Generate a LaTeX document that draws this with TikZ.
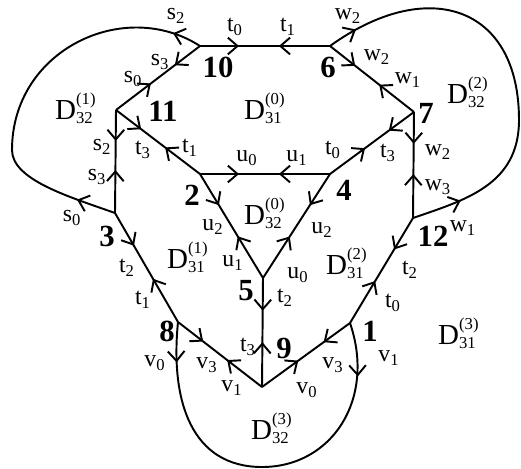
\documentclass[tikz,border=0pt]{standalone}
\usepackage{fontspec}
\setmainfont{Liberation Serif}
\usetikzlibrary{arrows.meta,decorations.markings}
\newcommand\hlab[2]{#1\textsubscript{#2}}
\newcommand\dreg[2]{D\rlap{\raisebox{0.55em}{\fontsize{9.5}{10}\selectfont(#2)}}%
  \raisebox{-0.12em}{\fontsize{9.5}{10}\selectfont#1}}
\begin{document}
\begin{tikzpicture}[x=0.02cm,y=-0.02cm,line width=1.1pt,
  >={Straight Barb[length=5.5pt,width=9.5pt]},
  half/.style={postaction={decorate},decoration={markings,
    mark=at position 0.3 with {\arrow{>}},
    mark=at position 0.7 with {\arrow{<}}}},
  loopy/.style 2 args={postaction={decorate},decoration={markings,
    mark=at position #1 with {\arrow{>}},
    mark=at position -#2 with {\arrow{<}}}},
  lab/.style={font=\fontsize{13.5}{15}\selectfont,inner sep=0pt},
  num/.style={font=\fontsize{17.5}{19}\selectfont\bfseries,inner sep=0pt},
  reg/.style={font=\fontsize{16.5}{18}\selectfont,inner sep=0pt}]
\useasboundingbox (0,0) rectangle (521,468);
% vertices
\coordinate (v10) at (200,46);
\coordinate (v6) at (330,46);
\coordinate (v11) at (116,110);
\coordinate (v7) at (414,112);
\coordinate (v2) at (200,174);
\coordinate (v4) at (330,174);
\coordinate (v3) at (115,213);
\coordinate (v12) at (413,218);
\coordinate (v5) at (263,278);
\coordinate (v8) at (178,322);
\coordinate (v1) at (350,323);
\coordinate (v9) at (262,387);
% turning points of the loops
\coordinate (lw) at (12,150);
\coordinate (rw) at (519,120);
\coordinate (bw) at (262,467);
% edges
\draw[half] (v10)--(v6);
\draw[half] (v10)--(v11);
\draw[half] (v6)--(v7);
\draw[half] (v11)--(v2);
\draw[half] (v11)--(v3);
\draw[half] (v7)--(v4);
\draw[half] (v7)--(v12);
\draw[half] (v2)--(v4);
\draw[half] (v2)--(v5);
\draw[half] (v4)--(v5);
\draw[half] (v3)--(v8);
\draw[half] (v12)--(v1);
\draw[half] (v5)--(v9);
\draw[half] (v8)--(v9);
\draw[half] (v1)--(v9);
% loops
\draw[loopy={17pt}{16pt}] (v10) .. controls (124,-3) and (12,50) .. (lw)
  .. controls (12,180) and (70,197) .. (v3);
\draw[loopy={17.5pt}{22pt}] (v6) .. controls (427,-24) and (519,5) .. (rw)
  .. controls (519,185) and (465,200) .. (v12);
\draw[loopy={23pt}{24pt}] (v8) .. controls (170,402) and (192,467) .. (bw)
  .. controls (332,467) and (376,399) .. (v1);
% vertex numbers
\node[num] (n10) at (218,67) {10};
\node[num] (n6) at (328,67) {6};
\node[num] (n11) at (163,111) {11};
\node[num] (n7) at (426,113) {7};
\node[num] (n2) at (192,195) {2};
\node[num] (n4) at (344,190) {4};
\node[num] (n3) at (107,236) {3};
\node[num] (n12) at (433,236) {12};
\node[num] (n5) at (246,291) {5};
\node[num] (n8) at (167,331) {8};
\node[num] (n1) at (370,331) {1};
\node[num] (n9) at (284,348) {9};
% half-edge labels
\node[lab] (h10s2) at (176,16) {\hlab{s}{2}};
\node[lab] (h10t0) at (235,27) {\hlab{t}{0}};
\node[lab] (h6t1) at (288,27) {\hlab{t}{1}};
\node[lab] (h6w2) at (348,16) {\hlab{w}{2}};
\node[lab] (h10s3) at (160,62) {\hlab{s}{3}};
\node[lab] (h11s0) at (133,79) {\hlab{s}{0}};
\node[lab] (h6w2b) at (377,57) {\hlab{w}{2}};
\node[lab] (h7w1) at (408,80) {\hlab{w}{1}};
\node[lab] (h11s2) at (102,147) {\hlab{s}{2}};
\node[lab] (h11t3) at (143,150) {\hlab{t}{3}};
\node[lab] (h2t1) at (190,148) {\hlab{t}{1}};
\node[lab] (h2u0) at (247,158) {\hlab{u}{0}};
\node[lab] (h4u1) at (297,158) {\hlab{u}{1}};
\node[lab] (h4t0) at (333,150) {\hlab{t}{0}};
\node[lab] (h7t3) at (388,153) {\hlab{t}{3}};
\node[lab] (h7w2) at (438,152) {\hlab{w}{2}};
\node[lab] (h3s3) at (97,177) {\hlab{s}{3}};
\node[lab] (h12w3) at (438,187) {\hlab{w}{3}};
\node[lab] (h3s0) at (72,218) {\hlab{s}{0}};
\node[lab] (h2u2) at (213,227) {\hlab{u}{2}};
\node[lab] (h4u2) at (322,230) {\hlab{u}{2}};
\node[lab] (h12w1) at (463,228) {\hlab{w}{1}};
\node[lab] (h5u1) at (233,263) {\hlab{u}{1}};
\node[lab] (h5u0) at (298,275) {\hlab{u}{0}};
\node[lab] (h3t2) at (127,268) {\hlab{t}{2}};
\node[lab] (h12t2) at (410,270) {\hlab{t}{2}};
\node[lab] (h5t2) at (285,298) {\hlab{t}{2}};
\node[lab] (h8t1) at (143,300) {\hlab{t}{1}};
\node[lab] (h1t0) at (393,303) {\hlab{t}{0}};
\node[lab] (h9t3) at (248,347) {\hlab{t}{3}};
\node[lab] (h8v0) at (155,363) {\hlab{v}{0}};
\node[lab] (h8v3) at (207,365) {\hlab{v}{3}};
\node[lab] (h1v3) at (333,365) {\hlab{v}{3}};
\node[lab] (h1v1) at (389,358) {\hlab{v}{1}};
\node[lab] (h9v1) at (232,388) {\hlab{v}{1}};
\node[lab] (h9v0) at (307,390) {\hlab{v}{0}};
% regions
\node[reg] (r310) at (263,108) {\dreg{31}{0}};
\node[reg] (r321) at (74,108) {\dreg{32}{1}};
\node[reg] (r322) at (466,92) {\dreg{32}{2}};
\node[reg] (r320) at (263,213) {\dreg{32}{0}};
\node[reg] (r311) at (186,257) {\dreg{31}{1}};
\node[reg] (r312) at (345,263) {\dreg{31}{2}};
\node[reg] (r313) at (457,333) {\dreg{31}{3}};
\node[reg] (r323) at (270,428) {\dreg{32}{3}};
\end{tikzpicture}
\end{document}
